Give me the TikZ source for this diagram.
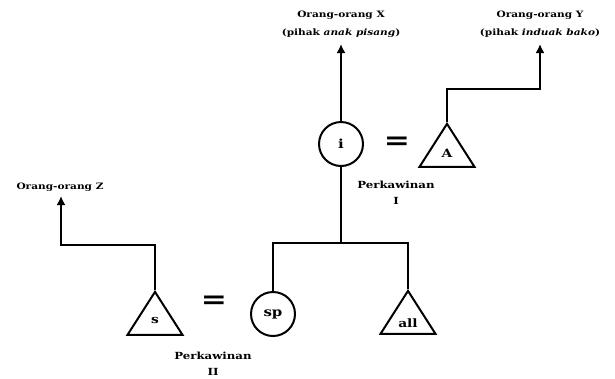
\documentclass[tikz,border=0pt]{standalone}
\usepackage{fontspec}
\setmainfont{DejaVu Serif}[FakeStretch=1.2]
\usetikzlibrary{shapes.geometric,arrows.meta}

\begin{document}
\begin{tikzpicture}[x=1pt, y=-1pt, line width=2pt,
    woman/.style={circle, draw, minimum size=44pt, inner sep=0pt, font=\bfseries\fontsize{12.5}{14}\selectfont},
    man/.style={isosceles triangle, isosceles triangle apex angle=65, shape border rotate=90,
      isosceles triangle stretches, minimum width=55pt, minimum height=43pt, draw, inner sep=0pt,
      anchor=apex, font=\bfseries\fontsize{11.5}{13}\selectfont},
    kin/.style={font=\bfseries\fontsize{8.8}{18}\selectfont, align=center},
    marr/.style={font=\bfseries\fontsize{9.8}{16}\selectfont, align=center},
    eq/.style={font=\bfseries\fontsize{26}{26}\selectfont, inner sep=0pt},
    up/.style={-{Latex[length=9pt,width=9pt]}}]
  \useasboundingbox (0,0) rectangle (615,378);
  \node[woman] (i) at (341,144) {i};
  \node[man] (A) at (447,122) {A};
  \node[eq] (eqI) at (397,143) {=};
  \node[marr] (mI) at (396,193) {Perkawinan\\I};
  \node[man] (s) at (155,290) {s};
  \node[eq] (eqII) at (214,302) {=};
  \node[woman] (sp) at (273,314) {sp};
  \node[man] (all) at (408,289) {all};
  \node[marr] (mII) at (213,364) {Perkawinan\\II};
  \node[kin] (X) at (341,24) {Orang-orang X\\(pihak \textit{anak pisang})};
  \node[kin] (Y) at (540,24) {Orang-orang Y\\(pihak \textit{induak bako})};
  \node[kin] (Z) at (60,187) {Orang-orang Z};
  \coordinate (xtop) at (341,44);
  \coordinate (ytop) at (540,44);
  \coordinate (ztop) at (61,196);
  \coordinate (bar) at (341,243);
  \draw[up] (i.north) -- (xtop);
  \draw[up] (A.apex) -- ++(0,-33) -| (ytop);
  \draw[up] (s.apex) -- ++(0,-45) -| (ztop);
  \draw (i.south) -- (bar);
  \draw (sp.north) |- (bar) -| (all.apex);
\end{tikzpicture}
\end{document}
